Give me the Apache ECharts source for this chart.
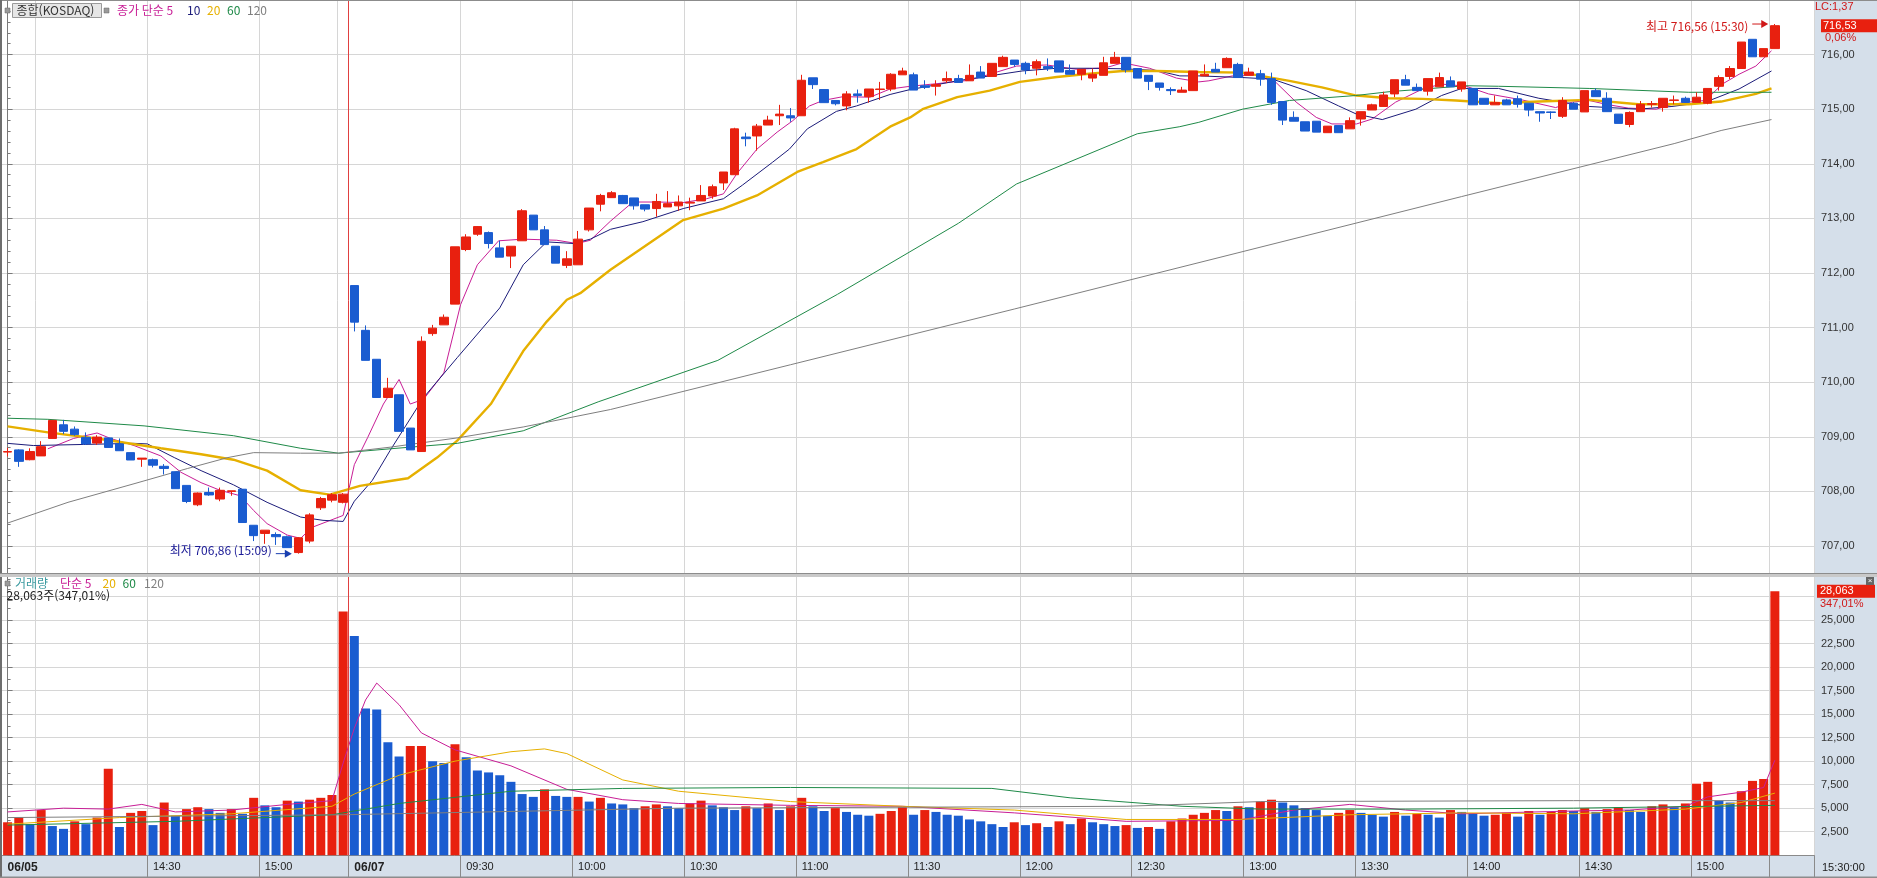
<!DOCTYPE html>
<html lang="ko">
<head>
<meta charset="UTF-8">
<title>종합(KOSDAQ) 3분</title>
<script src="https://cdn.jsdelivr.net/npm/echarts@6/dist/echarts.min.js"></script>
<style>
    html, body { margin: 0; padding: 0; background: #fff; }
    #chart { width: 1877px; height: 878px; background: #d5dfea; }
</style>
</head>
<body>
<div id="chart"></div>
<script>
// 3분봉 [시가, 종가, 저가, 고가]  (06/05 13:51 ~ 15:30, 06/07 09:00 ~ 15:30)
var candles = [
    [708.72, 708.73, 708.64, 708.80], [708.76, 708.55, 708.45, 708.77], [708.58, 708.73, 708.57, 708.79], [708.65, 708.82, 708.65, 708.92],
    [708.97, 709.30, 708.97, 709.30], [709.22, 709.10, 709.05, 709.31], [709.14, 709.04, 709.02, 709.19], [708.99, 708.87, 708.85, 709.08],
    [708.885, 708.995, 708.85, 709.03], [708.98, 708.805, 708.80, 708.98], [708.87, 708.745, 708.745, 708.97], [708.71, 708.575, 708.575, 708.71],
    [708.59, 708.61, 708.45, 708.61], [708.58, 708.48, 708.44, 708.60], [708.46, 708.42, 708.31, 708.50], [708.36, 708.05, 708.05, 708.36],
    [708.11, 707.815, 707.785, 708.11], [707.755, 707.97, 707.73, 707.98], [707.98, 707.935, 707.92, 708.07], [707.86, 708.02, 707.82, 708.07],
    [708.00, 708.01, 707.92, 708.01], [708.04, 707.43, 707.43, 708.04], [707.38, 707.19, 707.09, 707.38], [707.23, 707.29, 707.04, 707.29],
    [707.21, 707.17, 707.02, 707.25], [707.17, 706.97, 706.97, 707.19], [706.88, 707.15, 706.86, 707.16], [707.09, 707.57, 707.05, 707.60],
    [707.70, 707.87, 707.66, 707.90], [707.84, 707.94, 707.80, 707.97], [707.80, 707.95, 707.78, 707.97],
    [711.77, 711.10, 710.93, 711.77], [710.95, 710.40, 710.40, 711.04], [710.42, 709.72, 709.72, 710.42], [709.72, 709.89, 709.72, 710.08],
    [709.77, 709.10, 709.10, 709.77], [709.16, 708.76, 708.76, 709.16], [708.73, 710.75, 708.73, 710.84], [710.89, 710.99, 710.85, 711.05],
    [711.05, 711.19, 711.05, 711.24], [711.43, 712.48, 711.43, 712.48], [712.43, 712.66, 712.40, 712.71], [712.71, 712.85, 712.68, 712.86],
    [712.74, 712.54, 712.45, 712.76], [712.46, 712.29, 712.29, 712.59], [712.31, 712.49, 712.09, 712.49], [712.59, 713.14, 712.59, 713.17],
    [713.06, 712.79, 712.79, 713.06], [712.79, 712.52, 712.52, 712.86], [712.49, 712.18, 712.18, 712.49], [712.14, 712.26, 712.09, 712.40],
    [712.15, 712.62, 712.15, 712.77], [712.79, 713.19, 712.76, 713.19], [713.26, 713.42, 713.13, 713.45], [713.38, 713.47, 713.38, 713.50],
    [713.42, 713.27, 713.27, 713.43], [713.375, 713.23, 713.16, 713.375], [713.25, 713.17, 713.13, 713.25], [713.18, 713.31, 713.03, 713.45],
    [713.21, 713.27, 713.21, 713.50], [713.23, 713.30, 713.14, 713.42], [713.28, 713.295, 713.15, 713.38], [713.32, 713.42, 713.32, 713.61],
    [713.41, 713.58, 713.36, 713.62], [713.65, 713.85, 713.52, 713.85], [713.80, 714.64, 713.80, 714.66], [714.49, 714.46, 714.32, 714.57],
    [714.51, 714.69, 714.24, 714.73], [714.71, 714.80, 714.71, 714.88], [714.88, 714.91, 714.71, 715.08], [714.88, 714.84, 714.77, 715.02],
    [714.88, 715.53, 714.88, 715.63], [715.575, 715.45, 715.37, 715.575], [715.36, 715.12, 715.12, 715.36], [715.16, 715.10, 715.07, 715.16],
    [715.06, 715.28, 714.98, 715.33], [715.28, 715.25, 715.12, 715.36], [715.23, 715.37, 715.12, 715.37], [715.36, 715.37, 715.17, 715.50],
    [715.37, 715.64, 715.33, 715.66], [715.63, 715.70, 715.63, 715.76], [715.63, 715.35, 715.35, 715.67], [715.43, 715.40, 715.37, 715.53],
    [715.42, 715.45, 715.25, 715.53], [715.52, 715.56, 715.48, 715.69], [715.56, 715.49, 715.49, 715.63], [715.52, 715.62, 715.52, 715.82],
    [715.68, 715.57, 715.57, 715.79], [715.60, 715.84, 715.60, 715.84], [715.78, 715.95, 715.78, 715.98], [715.90, 715.82, 715.78, 715.90],
    [715.84, 715.72, 715.64, 715.87], [715.75, 715.87, 715.62, 715.91], [715.78, 715.745, 715.70, 715.93], [715.885, 715.68, 715.68, 715.885],
    [715.71, 715.64, 715.64, 715.82], [715.64, 715.73, 715.53, 715.73], [715.57, 715.64, 715.50, 715.745], [715.62, 715.85, 715.62, 715.96],
    [715.84, 715.95, 715.84, 716.05], [715.95, 715.72, 715.67, 715.95], [715.745, 715.57, 715.57, 715.745], [715.62, 715.51, 715.35, 715.62],
    [715.48, 715.40, 715.34, 715.48], [715.36, 715.34, 715.26, 715.40], [715.31, 715.35, 715.31, 715.41], [715.34, 715.70, 715.34, 715.70],
    [715.61, 715.64, 715.61, 715.82], [715.73, 715.68, 715.68, 715.85], [715.76, 715.93, 715.76, 715.95], [715.82, 715.58, 715.58, 715.85],
    [715.62, 715.68, 715.62, 715.76], [715.65, 715.55, 715.43, 715.72], [715.56, 715.125, 715.08, 715.67], [715.14, 714.80, 714.71, 715.14],
    [714.85, 714.78, 714.78, 714.96], [714.77, 714.60, 714.60, 714.77], [714.78, 714.58, 714.58, 714.78], [714.57, 714.69, 714.57, 714.69],
    [714.70, 714.57, 714.57, 714.70], [714.64, 714.79, 714.64, 714.85], [714.82, 714.955, 714.70, 714.955], [714.985, 715.08, 714.985, 715.10],
    [715.05, 715.26, 715.05, 715.32], [715.28, 715.54, 715.22, 715.54], [715.54, 715.44, 715.44, 715.63], [715.40, 715.34, 715.34, 715.47],
    [715.33, 715.56, 715.25, 715.56], [715.41, 715.58, 715.41, 715.67], [715.52, 715.41, 715.41, 715.60], [715.37, 715.50, 715.32, 715.50],
    [715.38, 715.08, 715.08, 715.38], [715.20, 715.09, 715.09, 715.20], [715.08, 715.125, 715.08, 715.25], [715.17, 715.08, 715.08, 715.19],
    [715.19, 715.09, 715.03, 715.25], [715.11, 714.985, 714.87, 715.11], [714.955, 714.93, 714.77, 714.955], [714.95, 714.94, 714.82, 714.96],
    [714.87, 715.16, 714.84, 715.22], [715.11, 715.00, 715.00, 715.13], [714.95, 715.34, 714.95, 715.34], [715.34, 715.23, 715.23, 715.38],
    [715.20, 714.955, 714.955, 715.31], [714.91, 714.74, 714.74, 714.91], [714.72, 714.94, 714.67, 714.96], [714.955, 715.09, 714.955, 715.15],
    [715.09, 715.10, 715.03, 715.15], [715.03, 715.20, 714.955, 715.20], [715.16, 715.17, 715.09, 715.25], [715.20, 715.125, 715.125, 715.23],
    [715.125, 715.22, 715.125, 715.31], [715.11, 715.38, 715.09, 715.38], [715.42, 715.58, 715.34, 715.62], [715.60, 715.745, 715.55, 715.79],
    [715.745, 716.23, 715.745, 716.23], [716.28, 715.96, 715.96, 716.28], [715.96, 716.11, 715.96, 716.11], [716.11, 716.53, 716.11, 716.56]
];

// 거래량 (주)
var volumes = [
    3500, 4000, 3300, 4800, 3100, 2800, 3600, 3300, 4000, 9200,
    3000, 4500, 4700, 3200, 5600, 4200, 4900, 5100, 4900, 4500,
    4900, 4400, 6100, 5300, 5100, 5800, 5700, 5900, 6100, 6400,
    25900, 23300, 15600, 15500, 12000, 10500, 11600, 11600, 10000, 9800,
    11800, 10400, 9000, 8800, 8500, 7800, 6500, 6200, 7000, 6300,
    6200, 6200, 5700, 6100, 5500, 5400, 5000, 5200, 5400, 5200,
    5000, 5500, 5800, 5300, 5100, 4800, 5200, 5000, 5500, 4800,
    5200, 6100, 5200, 4700, 5000, 4600, 4300, 4200, 4400, 4700,
    5100, 4300, 4800, 4600, 4300, 4200, 3800, 3600, 3300, 3000,
    3500, 3200, 3400, 3000, 3600, 3300, 3900, 3500, 3300, 3100,
    3200, 2900, 3000, 2800, 3600, 3900, 4300, 4500, 4800, 4700,
    5200, 5100, 5700, 5900, 5600, 5300, 5000, 4800, 4200, 4500,
    4800, 4500, 4300, 4100, 4600, 4200, 4400, 4300, 4000, 4800,
    4600, 4400, 4200, 4300, 4500, 4100, 4700, 4300, 4600, 4800,
    4700, 5000, 4600, 4900, 5100, 4800, 4600, 5200, 5400, 5100,
    5500, 7600, 7800, 5800, 5600, 6800, 7900, 8100, 28063
];

// 이동평균 (봉 위치, 값)
var ma5Pts = [[3.6, 708.78], [5.9, 708.97], [8.0, 709.07], [9.2, 708.97], [11.3, 708.84], [13.7, 708.65], [15.5, 708.35], [17.3, 708.16],
    [19.0, 708.02], [20.8, 707.92], [22.0, 707.65], [23.2, 707.41], [25.0, 707.20], [26.2, 707.14], [27.2, 707.34], [30.0, 707.56],
    [31.0, 708.49], [32.2, 708.99], [33.6, 709.60], [35.0, 710.05], [36.0, 709.60], [37.2, 709.69], [39.0, 710.17], [40.5, 711.42],
    [42.0, 712.15], [43.9, 712.59], [46.1, 712.62], [49.1, 712.60], [50.9, 712.54], [52.1, 712.60], [53.9, 712.95], [55.9, 713.30],
    [58.1, 713.30], [60.4, 713.29], [62.5, 713.36], [64.0, 713.45], [65.2, 713.82], [67.0, 714.27], [68.8, 714.58], [70.2, 714.79],
    [71.7, 715.06], [72.9, 715.16], [74.7, 715.23], [77.1, 715.22], [78.9, 715.37], [80.7, 715.42], [82.7, 715.46], [86.0, 715.53],
    [87.8, 715.64], [90.2, 715.79], [92.9, 715.81], [95.6, 715.73], [98.2, 715.76], [99.7, 715.85], [102.1, 715.75], [104.5, 715.57],
    [106.5, 715.50], [107.4, 715.52], [109.5, 715.61], [111.6, 715.63], [113.4, 715.49], [115.2, 715.13], [117.0, 714.85], [118.4, 714.73],
    [120.6, 714.73], [122.0, 714.82], [124.1, 715.13], [126.5, 715.37], [128.2, 715.46], [130.4, 715.42], [132.4, 715.28], [135.4, 715.17],
    [138.4, 715.03], [139.9, 715.13], [141.4, 715.16], [142.9, 715.09], [144.9, 715.02], [147.4, 715.00], [148.8, 715.09], [150.3, 715.13],
    [151.8, 715.16], [153.3, 715.46], [154.8, 715.64], [156.3, 715.79], [157.7, 716.07]];
var ma10Pts = [[0, 708.88], [2.3, 708.84], [6.8, 708.86], [11.3, 708.88], [12.5, 708.87], [14.9, 708.62], [17.3, 708.38], [20.2, 708.12],
    [23.2, 707.80], [26.2, 707.53], [28.2, 707.47], [30.0, 707.45], [31.0, 707.82], [32.6, 708.20], [34.2, 708.75], [37.2, 709.72],
    [40.2, 710.45], [44.0, 711.36], [46.1, 712.15], [48.2, 712.57], [50.6, 712.54], [52.1, 712.62], [53.9, 712.80], [56.8, 712.94],
    [60.4, 713.18], [64.0, 713.36], [65.7, 713.61], [68.4, 714.03], [69.9, 714.27], [71.5, 714.64], [74.1, 714.96], [75.9, 715.06],
    [78.9, 715.27], [80.7, 715.36], [81.8, 715.40], [84.9, 715.52], [87.8, 715.61], [90.7, 715.70], [93.8, 715.75], [96.7, 715.75],
    [99.7, 715.74], [102.7, 715.71], [104.8, 715.61], [106.5, 715.61], [110.4, 715.58], [113.1, 715.55], [116.1, 715.34], [119.0, 715.06],
    [120.6, 714.91], [122.9, 714.81], [125.9, 715.00], [128.2, 715.25], [130.0, 715.38], [133.3, 715.38], [136.9, 715.20], [141.4, 715.05],
    [145.8, 715.00], [148.8, 715.05], [151.8, 715.13], [154.8, 715.37], [157.7, 715.70]];
var ma20Pts = [[0, 709.19], [3.6, 709.08], [8.3, 708.96], [13.7, 708.79], [17.3, 708.68], [20.2, 708.58], [23.2, 708.38], [26.2, 708.02],
    [28.8, 707.94], [31.5, 708.10], [34.5, 708.20], [35.8, 708.24], [38.4, 708.62], [40.2, 708.93], [43.2, 709.60], [46.1, 710.57],
    [48.2, 711.11], [50.0, 711.51], [51.2, 711.63], [53.9, 712.06], [60.4, 712.97], [64.0, 713.18], [67.0, 713.42], [70.6, 713.85],
    [72.9, 714.03], [75.9, 714.27], [78.9, 714.68], [80.7, 714.85], [81.8, 715.00], [84.9, 715.22], [87.8, 715.34], [90.5, 715.50],
    [93.8, 715.59], [96.7, 715.65], [99.7, 715.70], [102.7, 715.70], [106.5, 715.68], [110.4, 715.67], [114.6, 715.52], [117.5, 715.40],
    [120.6, 715.25], [123.5, 715.20], [126.5, 715.19], [129.5, 715.16], [133.3, 715.11], [136.9, 715.14], [141.4, 715.17], [145.8, 715.09],
    [150.3, 715.09], [153.2, 715.14], [156.3, 715.28], [157.7, 715.38]];
var ma60Pts = [[0, 709.34], [3.6, 709.32], [12.2, 709.20], [20.2, 709.02], [26.2, 708.79], [29.6, 708.70], [34.2, 708.78], [40.2, 708.88],
    [46.1, 709.11], [52.8, 709.64], [63.5, 710.40], [74.2, 711.61], [85.0, 712.91], [90.2, 713.63], [101.0, 714.55], [104.8, 714.68],
    [106.5, 714.76], [110.4, 715.00], [114.6, 715.16], [120.5, 715.25], [123.5, 715.32], [130.4, 715.43], [133.3, 715.42], [141.4, 715.38],
    [150.3, 715.31], [157.7, 715.31]];
var ma120Pts = [[0, 707.42], [5.4, 707.80], [11.3, 708.14], [16.1, 708.42], [19.7, 708.62], [22.0, 708.71], [26.2, 708.70], [29.6, 708.70],
    [34.2, 708.81], [40.2, 708.98], [46.1, 709.18], [53.9, 709.50], [70.0, 710.32], [90.0, 711.34], [110.0, 712.37], [130.0, 713.40],
    [149.0, 714.37], [153.2, 714.61], [157.7, 714.81]];

var volMa5Pts = [[0, 4600], [5, 5000], [9, 4900], [12, 5400], [15, 4600], [20, 4800], [25, 5400], [29, 5800], [30, 9800], [31, 13500],
    [32, 16500], [33, 18300], [35, 16000], [37, 13000], [40, 11200], [45, 9500], [50, 7000], [55, 5900], [60, 5500], [70, 5300],
    [80, 5200], [90, 4500], [100, 3600], [110, 3700], [115, 4800], [120, 5400], [125, 4800], [130, 4400], [140, 4700], [145, 4800],
    [150, 5200], [152, 6200], [155, 6700], [157, 7200], [158, 10100]];
var volMa20Pts = [[0, 3300], [10, 4000], [20, 4400], [29, 5200], [31, 6500], [35, 8500], [40, 10000], [45, 11000], [48, 11300], [50, 10800],
    [55, 8000], [60, 6800], [70, 5700], [80, 5200], [90, 4800], [100, 3800], [110, 3800], [120, 4300], [130, 4500], [140, 4400],
    [150, 4900], [155, 5600], [158, 6600]];
var volMa60Pts = [[0, 3200], [15, 3600], [29, 4300], [35, 5500], [45, 6800], [55, 7100], [70, 7200], [88, 7100], [95, 6100], [105, 5200],
    [112, 4900], [125, 4900], [140, 5000], [158, 5300]];
var volMa120Pts = [[0, 4000], [30, 4300], [60, 5000], [100, 5200], [112, 5700], [140, 5800], [158, 5800]];

// 시간축 눈금
var timeLabels = [[0, '06/05'], [13, '14:30'], [23, '15:00'], [31, '06/07'], [41, '09:30'], [51, '10:00'], [61, '10:30'], [71, '11:00'],
    [81, '11:30'], [91, '12:00'], [101, '12:30'], [111, '13:00'], [121, '13:30'], [131, '14:00'], [141, '14:30'], [151, '15:00']];
var gridLineIdx = [3, 13, 23, 30, 41, 51, 61, 71, 81, 91, 101, 111, 121, 131, 141, 151, 158];
var sepIdx = [13, 23, 31, 41, 51, 61, 71, 81, 91, 101, 111, 121, 131, 141, 151, 158];
var dayBreak = 30.5;
var slotCount = 162;

var RED = '#e8200f', BLUE = '#1a5cd0';
var C5 = '#c81e96', C10 = '#1c1c7a', C20 = '#e6b000', C60 = '#1f8a48', C120 = '#7f7f7f';

var labelMap = {};
timeLabels.forEach(function (t) { labelMap[t[0]] = t[1]; });
var cats = [];
for (var i = 0; i < slotCount; i++) cats.push(String(i));

// 거래량 색: 직전 봉보다 늘면 빨강, 줄면 파랑
var volData = volumes.map(function (v, i) {
    var up = i === 0 || v >= volumes[i - 1];
    return { value: v, itemStyle: { color: up ? RED : BLUE } };
});

var numFont = '"Liberation Sans", Arial, sans-serif';
var krFont = '"Noto Sans CJK KR", "Liberation Sans", sans-serif';

function maLine(name, pts, color, width, xi, yi) {
    return {
        name: name, type: 'line', xAxisIndex: xi, yAxisIndex: yi, data: pts,
        showSymbol: false, silent: true, smooth: false,
        lineStyle: { color: color, width: width }, z: 3
    };
}

var dayLine = {
    symbol: 'none', silent: true, label: { show: false },
    lineStyle: { color: '#e04040', width: 1, type: 'solid' },
    data: [{ xAxis: dayBreak }]
};

var chart = echarts.init(document.getElementById('chart'), null, { renderer: 'canvas' });

var option = {
    animation: false,
    backgroundColor: 'transparent',
    grid: [
        { left: 2, right: 63, top: -2.86, height: 603.46, show: true, backgroundColor: '#fff', borderWidth: 0 },
        { left: 2, right: 63, top: 573, height: 282.2, show: true, backgroundColor: '#fff', borderWidth: 0 }
    ],
    xAxis: [
        {
            type: 'category', gridIndex: 0, data: cats, boundaryGap: true,
            axisLine: { show: false }, axisTick: { show: false }, axisLabel: { show: false },
            splitLine: { show: true, interval: function (idx) { return gridLineIdx.indexOf(idx) >= 0; }, lineStyle: { color: '#d6d6d6' } }
        },
        {
            type: 'category', gridIndex: 1, data: cats, boundaryGap: true,
            axisLine: { show: true, lineStyle: { color: '#8a8a8a' } },
            axisTick: { show: true, length: 22, interval: function (idx) { return sepIdx.indexOf(idx) >= 0; }, lineStyle: { color: '#8a8a8a' } },
            axisLabel: {
                show: true, interval: function (idx) { return labelMap[idx] !== undefined; },
                formatter: function (v, idx) {
                    var t = labelMap[idx] || '';
                    return t.indexOf('/') > 0 ? '{d|' + t + '}' : t;
                },
                align: 'left', margin: 6, color: '#222', fontSize: 11, fontFamily: numFont,
                rich: { d: { fontSize: 12, fontWeight: 'bold', color: '#222', fontFamily: numFont } }
            },
            splitLine: { show: true, interval: function (idx) { return gridLineIdx.indexOf(idx) >= 0; }, lineStyle: { color: '#d6d6d6' } }
        },
        { type: 'value', gridIndex: 0, min: -0.5, max: slotCount - 0.5, show: false },
        { type: 'value', gridIndex: 1, min: -0.5, max: slotCount - 0.5, show: false }
    ],
    yAxis: [
        {
            type: 'value', gridIndex: 0, position: 'right', min: 706, max: 717, interval: 1,
            axisLine: { show: true, lineStyle: { color: '#7a7a7a' } },
            axisTick: { show: true, length: 5, lineStyle: { color: '#7a7a7a' } },
            minorTick: { show: true, splitNumber: 5, length: 3, lineStyle: { color: '#7a7a7a' } },
            axisLabel: {
                margin: 7, color: '#333', fontSize: 11, fontFamily: numFont,
                formatter: function (v) { return (v <= 706 || v >= 717) ? '' : v.toFixed(2).replace('.', ','); }
            },
            splitLine: { show: true, showMinLine: false, showMaxLine: false, lineStyle: { color: '#d6d6d6' } }
        },
        {
            type: 'value', gridIndex: 1, position: 'right', min: 0, max: 30000, interval: 2500,
            axisLine: { show: true, lineStyle: { color: '#7a7a7a' } },
            axisTick: { show: true, length: 5, lineStyle: { color: '#7a7a7a' } },
            minorTick: { show: true, splitNumber: 2, length: 3, lineStyle: { color: '#7a7a7a' } },
            axisLabel: {
                margin: 7, color: '#333', fontSize: 11, fontFamily: numFont,
                formatter: function (v) { return (v <= 0 || v > 25000) ? '' : v.toLocaleString('en-US'); }
            },
            splitLine: { show: true, showMinLine: false, showMaxLine: false, lineStyle: { color: '#d6d6d6' } }
        }
    ],
    series: [
        {
            name: 'price', type: 'candlestick', xAxisIndex: 0, yAxisIndex: 0, data: candles, barWidth: 9,
            itemStyle: { color: RED, color0: BLUE, borderColor: RED, borderColor0: BLUE, borderWidth: 1 }, z: 4
        },
        maLine('MA5', ma5Pts, C5, 1, 2, 0),
        maLine('MA10', ma10Pts, C10, 1, 2, 0),
        maLine('MA20', ma20Pts, C20, 2.4, 2, 0),
        maLine('MA60', ma60Pts, C60, 1, 2, 0),
        Object.assign(maLine('MA120', ma120Pts, C120, 1, 2, 0), { markLine: dayLine }),
        { name: 'volume', type: 'bar', xAxisIndex: 1, yAxisIndex: 1, data: volData, barWidth: 9, z: 2 },
        maLine('VMA5', volMa5Pts, C5, 1, 3, 1),
        maLine('VMA20', volMa20Pts, C20, 1, 3, 1),
        maLine('VMA60', volMa60Pts, C60, 1, 3, 1),
        Object.assign(maLine('VMA120', volMa120Pts, C120, 1, 3, 1), { markLine: dayLine })
    ]
};
chart.setOption(option);

// 화면 장식과 주석
var last = candles.length - 1;
var lowIdx = 26, highIdx = last;
var pLow = chart.convertToPixel({ seriesIndex: 1 }, [lowIdx - 0.5, candles[lowIdx][2]]);
var pHigh = chart.convertToPixel({ seriesIndex: 1 }, [highIdx - 0.5, candles[highIdx][3]]);
var pClose = chart.convertToPixel({ seriesIndex: 1 }, [last, candles[last][1]]);
var pVol = chart.convertToPixel({ seriesIndex: 7 }, [last, volumes[last]]);

function arrow(tipX, tipY, color) {
    return [
        { type: 'line', shape: { x1: tipX - 16, y1: tipY, x2: tipX - 5, y2: tipY }, style: { stroke: color, lineWidth: 1 }, z: 20 },
        { type: 'polygon', shape: { points: [[tipX, tipY], [tipX - 7, tipY - 4], [tipX - 7, tipY + 4]] }, style: { fill: color }, z: 20 }
    ];
}
function txt(x, y, s, color, size, align, font) {
    return { type: 'text', x: x, y: y, z: 30, style: { text: s, fill: color, font: (size || 11) + 'px ' + (font || numFont), align: align || 'left', verticalAlign: 'middle' } };
}

var g = [];
// 패널 테두리
g.push({ type: 'rect', shape: { x: 0, y: 0, width: 1877, height: 1 }, style: { fill: '#8c8c8c' }, z: 25 });
g.push({ type: 'rect', shape: { x: 0, y: 0, width: 2, height: 878 }, style: { fill: '#6e6e6e' }, z: 25 });
g.push({ type: 'rect', shape: { x: 0, y: 573, width: 1877, height: 4 }, style: { fill: '#c9c9c9' }, z: 25 });
g.push({ type: 'rect', shape: { x: 0, y: 573, width: 1877, height: 1 }, style: { fill: '#8c8c8c' }, z: 25 });
g.push({ type: 'rect', shape: { x: 0, y: 876.5, width: 1877, height: 1.5 }, style: { fill: '#8c8c8c' }, z: 25 });

// 가격 범례
g.push({ type: 'rect', shape: { x: 5, y: 8, width: 5, height: 5 }, style: { fill: '#9a9a9a', stroke: '#666', lineWidth: 0.5 }, z: 30 });
g.push({ type: 'rect', shape: { x: 12.5, y: 3.5, width: 89, height: 14 }, style: { fill: '#e6e6e6', stroke: '#9a9a9a', lineWidth: 1 }, z: 29 });
g.push(txt(16.5, 10.8, '종합(KOSDAQ)', '#333', 12, 'left', krFont));
g.push({ type: 'rect', shape: { x: 104, y: 8, width: 5, height: 5 }, style: { fill: '#9a9a9a', stroke: '#666', lineWidth: 0.5 }, z: 30 });
g.push(txt(117, 10.8, '종가 단순 5', C5, 12, 'left', krFont));
g.push(txt(187, 10.8, '10', C10, 12, 'left', krFont));
g.push(txt(207, 10.8, '20', C20, 12, 'left', krFont));
g.push(txt(227, 10.8, '60', C60, 12, 'left', krFont));
g.push(txt(247, 10.8, '120', C120, 12, 'left', krFont));

// 거래량 범례
g.push({ type: 'rect', shape: { x: 5, y: 581, width: 5, height: 5 }, style: { fill: '#9a9a9a', stroke: '#666', lineWidth: 0.5 }, z: 30 });
g.push(txt(15, 583.5, '거래량', '#3a9aa0', 12, 'left', krFont));
g.push(txt(60, 583.5, '단순 5', C5, 12, 'left', krFont));
g.push(txt(102.5, 583.5, '20', C20, 12, 'left', krFont));
g.push(txt(122.5, 583.5, '60', C60, 12, 'left', krFont));
g.push(txt(144, 583.5, '120', C120, 12, 'left', krFont));
g.push(txt(6.5, 595.5, '28,063주(347,01%)', '#222', 12, 'left', krFont));

// 최저 / 최고
g.push(txt(pLow[0] - 21, pLow[1] - 3, '최저 706,86 (15:09)', '#1a1a96', 12, 'right', krFont));
g = g.concat(arrow(pLow[0] - 1, pLow[1], '#1a3fb0'));
g.push(txt(pHigh[0] - 21, pHigh[1] + 2, '최고 716,56 (15:30)', '#d01818', 12, 'right', krFont));
g = g.concat(arrow(pHigh[0] - 1, pHigh[1], '#d01818'));

// 우측 축 표시
g.push(txt(1815, 7, 'LC:1,37', '#d01818', 11));
g.push({ type: 'rect', shape: { x: 1821, y: pClose[1] - 6.5, width: 56, height: 13 }, style: { fill: '#e8200f' }, z: 28 });
g.push(txt(1823, pClose[1], '716,53', '#fff', 11));
g.push(txt(1825, pClose[1] + 12.5, '0,06%', '#d01818', 11));
g.push({ type: 'rect', shape: { x: 1817, y: pVol[1] - 6.5, width: 58, height: 13 }, style: { fill: '#e8200f' }, z: 28 });
g.push(txt(1820, pVol[1], '28,063', '#fff', 11));
g.push(txt(1820, pVol[1] + 12.5, '347,01%', '#d01818', 11));
g.push({ type: 'rect', shape: { x: 1866, y: 577, width: 8, height: 8 }, style: { fill: '#666' }, z: 30 });
g.push(txt(1870, 581, '×', '#fff', 8, 'center'));
g.push(txt(1822, 868, '15:30:00', '#222', 11));

chart.setOption({ graphic: g });
</script>
</body>
</html>
